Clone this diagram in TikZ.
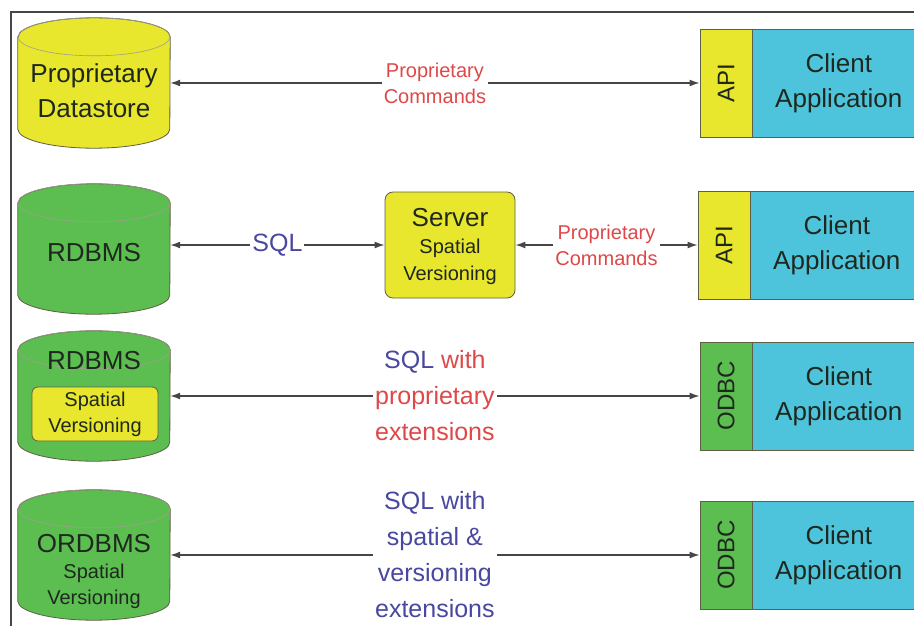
\documentclass[tikz,border=0pt]{standalone}
\usepackage{fontspec}
\setmainfont{Liberation Sans}
\usetikzlibrary{arrows.meta}
\definecolor{dbyellow}{RGB}{232,230,45}
\definecolor{dbgreen}{RGB}{92,190,80}
\definecolor{appblue}{RGB}{78,196,220}
\definecolor{edgegray}{RGB}{95,95,70}
\definecolor{cmdred}{RGB}{222,72,72}
\definecolor{sqlblue}{RGB}{72,72,160}
\definecolor{darktext}{RGB}{30,40,30}
\definecolor{linegray}{RGB}{70,70,70}
\newcommand{\bigtxt}{\fontsize{26}{35}\selectfont}
\newcommand{\midtxt}{\fontsize{20}{26}\selectfont}
% cylinder drawn round an (empty) node
\newcommand{\drawdb}[2]{%
  \draw[draw=edgegray, line width=0.8pt, fill=#2]
    ([yshift=-19pt]#1.north west) -- ([yshift=19pt]#1.south west)
    arc[start angle=180, end angle=0, x radius=76, y radius=19]
    -- ([yshift=-19pt]#1.north east)
    arc[start angle=360, end angle=180, x radius=76, y radius=19] -- cycle;
  \draw[draw=edgegray!60, line width=0.6pt]
    ([yshift=-19pt]#1.north) ellipse [x radius=76, y radius=19];}
\begin{document}
\begin{tikzpicture}[x=1pt,y=-1pt,
  db/.style={rectangle, minimum width=152pt, minimum height=130pt, inner sep=0pt},
  dbtxt/.style={align=center, text=darktext, inner sep=1pt},
  side/.style={rectangle, draw=edgegray, line width=0.8pt,
    minimum width=52pt, minimum height=108pt},
  sidetxt/.style={rotate=90, font=\fontsize{24}{24}\selectfont, text=darktext},
  app/.style={rectangle, draw=edgegray, line width=0.8pt, fill=appblue,
    minimum width=172pt, minimum height=108pt, anchor=west,
    align=center, text=darktext, font=\bigtxt},
  conn/.style={<->, >={Latex[length=10pt,width=7pt]}, draw=linegray,
    line width=1.4pt},
  cmd/.style={fill=white, text=cmdred, align=center, font=\midtxt,
    inner sep=2pt},
  sql/.style={fill=white, text=sqlblue, align=center,
    font=\fontsize{25}{36}\selectfont, inner sep=2pt}]
\useasboundingbox (0,0) rectangle (914,626);
\clip (0,0) rectangle (914,626);
% frame
\draw[linegray, line width=1.2pt] (11,626) -- (11,12) -- (914,12);

% row 1
\node[db] (store) at (94,83) {};
\drawdb{store}{dbyellow}
\node[dbtxt, font=\bigtxt] (storetxt) at (94,91) {Proprietary\\Datastore};
\node[side, fill=dbyellow] (api1) at (726,83) {};
\node[sidetxt] (api1txt) at (api1.center) {API};
\node[app] (app1) at (api1.east) {Client\\Application};
\draw[conn] (store.east) -- node[cmd] (cmd1) {Proprietary\\Commands} (api1.west);

% row 2
\node[db] (rdbms) at (94,249) {};
\drawdb{rdbms}{dbgreen}
\node[dbtxt, font=\bigtxt] (rdbmstxt) at (94,253) {RDBMS};
\node[rectangle, rounded corners=8pt, draw=edgegray, line width=0.8pt,
  fill=dbyellow, minimum width=130pt, minimum height=106pt] (server) at (450,245) {};
\node[dbtxt, font=\fontsize{20}{27}\selectfont] (servertxt) at (450,246)
  {{\fontsize{26}{28}\selectfont Server}\\Spatial\\Versioning};
\node[side, fill=dbyellow] (api2) at (724,245) {};
\node[sidetxt] (api2txt) at (api2.center) {API};
\node[app] (app2) at (api2.east) {Client\\Application};
\draw[conn] (rdbms.east |- server.west) -- node[sql] (sql2) {SQL} (server.west);
\draw[conn] (server.east) -- node[cmd] (cmd2) {Proprietary\\Commands} (api2.west);

% row 3
\node[db] (rdbms3) at (94,396) {};
\drawdb{rdbms3}{dbgreen}
\node[dbtxt, font=\bigtxt] (rdbms3txt) at (94,361) {RDBMS};
\node[rectangle, rounded corners=6pt, draw=edgegray, line width=0.8pt,
  fill=dbyellow, minimum width=126pt, minimum height=54pt, align=center,
  text=darktext, font=\midtxt] (ver3) at (95,414) {Spatial\\Versioning};
\node[side, fill=dbgreen] (odbc3) at (726,396) {};
\node[sidetxt] (odbc3txt) at (odbc3.center) {ODBC};
\node[app] (app3) at (odbc3.east) {Client\\Application};
\draw[conn] (rdbms3.east) -- node[sql, text=cmdred] (sql3)
  {\textcolor{sqlblue}{SQL} with\\proprietary\\extensions} (odbc3.west);

% row 4
\node[db] (ordbms) at (94,555) {};
\drawdb{ordbms}{dbgreen}
\node[dbtxt, font=\fontsize{20}{26}\selectfont] (ordbmstxt) at (94,571)
  {{\fontsize{26}{28}\selectfont ORDBMS}\\Spatial\\Versioning};
\node[side, fill=dbgreen] (odbc4) at (726,555) {};
\node[sidetxt] (odbc4txt) at (odbc4.center) {ODBC};
\node[app] (app4) at (odbc4.east) {Client\\Application};
\draw[conn] (ordbms.east) -- node[sql] (sql4)
  {SQL with\\spatial \&\\versioning\\extensions} (odbc4.west);
\end{tikzpicture}
\end{document}
